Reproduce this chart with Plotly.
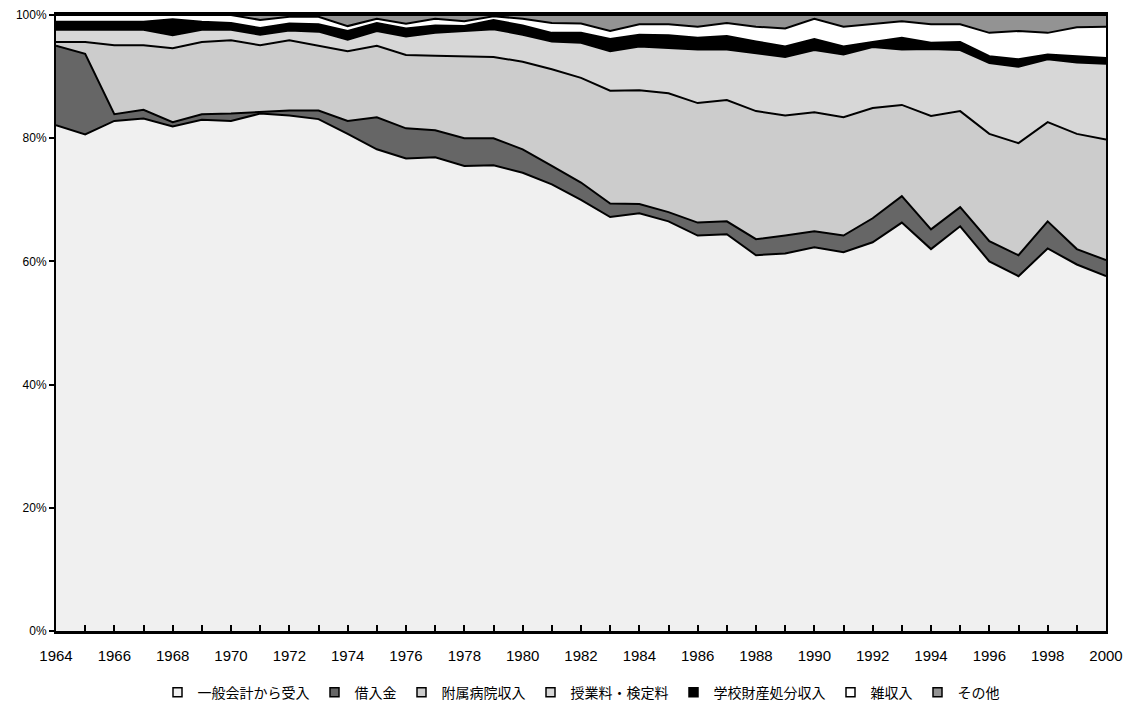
import plotly.graph_objects as go

years = list(range(1964, 2001))

general_account = [82.1, 80.6, 82.8, 83.2, 81.9, 83.0, 82.8, 84.0, 83.7, 83.1,
                   80.7, 78.2, 76.7, 76.9, 75.5, 75.6, 74.4, 72.5, 70.0, 67.2,
                   67.8, 66.5, 64.2, 64.4, 61.0, 61.3, 62.3, 61.5, 63.1, 66.3,
                   62.0, 65.7, 60.0, 57.6, 62.1, 59.5, 57.6]
borrowing = [12.9, 13.1, 1.1, 1.4, 0.7, 0.9, 1.2, 0.2, 0.8, 1.4,
             2.1, 5.2, 4.9, 4.4, 4.5, 4.4, 3.8, 3.0, 2.8, 2.2,
             1.5, 1.5, 2.1, 2.1, 2.6, 2.9, 2.6, 2.7, 3.9, 4.3,
             3.2, 3.1, 3.3, 3.4, 4.4, 2.5, 2.6]
hospital = [0.6, 1.9, 11.2, 10.5, 12.0, 11.7, 11.9, 10.9, 11.4, 10.5,
            11.3, 11.6, 11.9, 12.1, 13.3, 13.2, 14.2, 15.7, 17.0, 18.3,
            18.5, 19.3, 19.4, 19.7, 20.8, 19.5, 19.3, 19.2, 17.9, 14.8,
            18.4, 15.6, 17.4, 18.2, 16.1, 18.7, 19.6]
tuition = [2.0, 2.0, 2.5, 2.5, 2.1, 2.0, 1.7, 1.7, 1.6, 2.3,
           1.9, 2.4, 3.0, 3.7, 4.1, 4.5, 4.4, 4.5, 5.7, 6.4,
           7.1, 7.4, 8.7, 8.2, 9.4, 9.5, 10.1, 10.2, 9.9, 9.0,
           10.9, 9.9, 11.5, 12.4, 10.2, 11.6, 12.3]
property_sales = [1.3, 1.3, 1.3, 1.3, 2.6, 1.3, 1.1, 1.1, 1.1, 1.2,
                  1.4, 1.3, 1.3, 1.2, 0.8, 1.5, 1.5, 1.4, 1.6, 2.0,
                  1.9, 2.0, 1.9, 2.2, 1.9, 1.7, 1.8, 1.3, 0.8, 1.9,
                  1.0, 1.3, 1.1, 1.2, 0.8, 1.0, 0.9]
misc_income = [1.1, 1.1, 1.1, 1.1, 0.7, 1.1, 1.3, 1.3, 1.1, 1.2,
               0.8, 0.7, 0.8, 1.1, 0.8, 0.6, 1.1, 1.6, 1.5, 1.3,
               1.7, 1.8, 1.8, 2.1, 2.4, 2.9, 3.3, 3.2, 3.0, 2.7,
               3.0, 2.9, 3.8, 4.6, 3.5, 4.7, 5.1]
other = [0.0, 0.0, 0.0, 0.0, 0.0, 0.0, 0.0, 0.8, 0.3, 0.3,
         1.8, 0.6, 1.4, 0.6, 1.0, 0.2, 0.6, 1.3, 1.4, 2.6,
         1.5, 1.5, 1.9, 1.3, 1.9, 2.2, 0.6, 1.9, 1.4, 1.0,
         1.5, 1.5, 2.9, 2.6, 2.9, 2.0, 1.9]

names = ["一般会計から受入", "借入金", "附属病院収入", "授業料・検定料",
         "学校財産処分収入", "雑収入", "その他"]
series = [general_account, borrowing, hospital, tuition, property_sales, misc_income, other]
colors = ["#F0F0F0", "#666666", "#CCCCCC", "#D7D7D7", "#000000", "#FFFFFF", "#939393"]

x_tick_vals = list(range(1964, 2001, 2))
y_tick_vals = [0, 20, 40, 60, 80, 100]
y_tick_text = ["0%", "20%", "40%", "60%", "80%", "100%"]

fig = go.Figure()
for name, vals, col in zip(names, series, colors):
    fig.add_trace(go.Scatter(
        x=years, y=vals, name=name, mode="lines", stackgroup="one",
        groupnorm="percent" if name == names[0] else None,
        line=dict(color="black", width=2), fillcolor=col, showlegend=False,
        hoverinfo="skip"))
for name, col in zip(names, colors):
    fig.add_trace(go.Scatter(
        x=[None], y=[None], name=name, mode="markers",
        marker=dict(symbol="square", size=9, color=col, line=dict(color="black", width=1.5))))

fig.update_layout(
    width=1133, height=706,
    margin=dict(l=56, r=27, t=15, b=75, autoexpand=False),
    paper_bgcolor="white", plot_bgcolor="white",
    font=dict(family="Liberation Sans, Arial, sans-serif", color="black"),
    legend=dict(orientation="h", x=0.5, xanchor="center", y=-0.074, yanchor="top",
                font=dict(family="Noto Sans CJK JP", size=14), itemwidth=30,
                tracegroupgap=0, traceorder="normal"),
)
fig.update_xaxes(
    range=[1964, 2000], tickvals=x_tick_vals, ticktext=[str(v) for v in x_tick_vals],
    ticks="inside", ticklen=6, tickwidth=1.5, tickcolor="black",
    minor=dict(dtick=1, tick0=1964, ticks="inside", ticklen=6, tickwidth=1.5, tickcolor="black"),
    showline=True, linecolor="black", linewidth=2.5, mirror=True,
    showgrid=False, zeroline=False, tickfont=dict(size=15), ticklabelstandoff=9,
)
fig.update_yaxes(
    range=[0, 100], tickvals=y_tick_vals, ticktext=y_tick_text,
    ticks="outside", ticklen=5, tickwidth=1.5, tickcolor="black",
    showline=True, linecolor="black", linewidth=2, mirror=True,
    showgrid=False, zeroline=False, tickfont=dict(size=12),
)
fig.write_html("out.html")
